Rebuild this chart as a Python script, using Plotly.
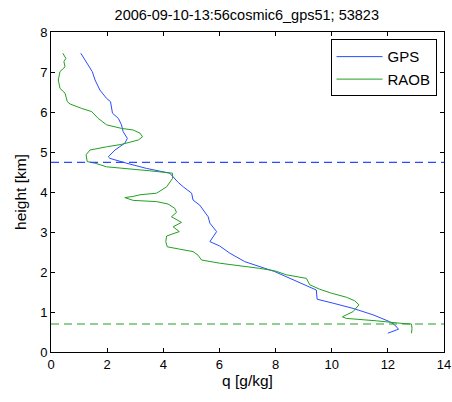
import plotly.graph_objects as go

# GPS profile (q in g/kg, height in km)
gps_q = [12.00, 12.38, 12.24, 12.06, 11.47, 10.76, 10.05, 9.48, 9.45, 8.39, 7.97,
         6.90, 6.37, 6.01, 5.66, 5.90, 5.66, 5.60, 5.42, 5.30, 5.06, 5.01, 4.71,
         4.53, 4.23, 3.40, 2.69, 2.10, 2.04, 2.28, 2.63, 2.72, 2.57, 2.51, 2.40,
         2.19, 2.12, 1.98, 1.74, 1.57, 1.47, 1.27, 1.06]
gps_h = [0.47, 0.57, 0.68, 0.76, 0.93, 1.09, 1.22, 1.32, 1.55, 1.88, 2.01,
         2.26, 2.47, 2.65, 2.76, 3.01, 3.22, 3.38, 3.55, 3.67, 3.80, 3.97, 4.13,
         4.24, 4.47, 4.59, 4.72, 4.84, 4.88, 5.05, 5.22, 5.34, 5.51, 5.68, 5.84,
         5.97, 6.26, 6.34, 6.55, 6.80, 7.01, 7.22, 7.47]

# RAOB profile
raob_q = [12.84, 12.86, 12.84, 12.42, 11.59, 10.52, 10.38, 10.76, 10.97, 10.82,
          10.52, 9.99, 9.57, 9.22, 9.10, 8.39, 7.97, 7.44, 6.01, 5.36, 5.24, 5.06,
          4.59, 4.14, 4.09, 4.12, 4.57, 4.35, 4.65, 4.29, 4.47, 4.41, 4.17, 3.76,
          2.93, 2.63, 2.93, 3.17, 3.76, 4.12, 4.33, 4.33, 3.52, 2.69, 1.98, 1.57,
          1.29, 1.25, 1.39, 1.98, 2.51, 3.11, 3.26, 3.17, 2.93, 2.51, 1.98, 1.68,
          1.45, 1.09, 0.68, 0.58, 0.50, 0.32, 0.26, 0.32, 0.50, 0.46, 0.53, 0.42]
raob_h = [0.47, 0.59, 0.70, 0.72, 0.78, 0.84, 0.88, 1.01, 1.18, 1.28,
          1.37, 1.47, 1.57, 1.68, 1.84, 1.93, 2.03, 2.09, 2.22, 2.30, 2.42, 2.51,
          2.57, 2.63, 2.76, 2.90, 3.01, 3.13, 3.24, 3.38, 3.49, 3.59, 3.70, 3.76,
          3.79, 3.86, 3.89, 3.93, 3.97, 4.13, 4.34, 4.47, 4.53, 4.59, 4.63, 4.72,
          4.76, 4.93, 5.05, 5.13, 5.19, 5.30, 5.38, 5.47, 5.55, 5.59, 5.68, 5.84,
          6.01, 6.09, 6.20, 6.26, 6.47, 6.59, 6.80, 7.01, 7.13, 7.26, 7.34, 7.47]

gps_level = 4.74
raob_level = 0.70
x_range = [0, 14]

BLUE = "#2a4cff"
GREEN = "#22a022"

fig = go.Figure()
fig.add_trace(go.Scatter(x=gps_q, y=gps_h, mode="lines", name="GPS",
                         line=dict(color=BLUE, width=1)))
fig.add_trace(go.Scatter(x=raob_q, y=raob_h, mode="lines", name="RAOB",
                         line=dict(color=GREEN, width=1)))
# dashed reference levels
fig.add_trace(go.Scatter(x=x_range, y=[gps_level, gps_level], mode="lines",
                         showlegend=False, line=dict(color=BLUE, width=1.2, dash="8px,5px")))
fig.add_trace(go.Scatter(x=x_range, y=[raob_level, raob_level], mode="lines",
                         showlegend=False, line=dict(color=GREEN, width=1.2, dash="8px,5px")))

axis_style = dict(
    showline=True, linecolor="black", linewidth=1, mirror="allticks",
    ticks="inside", ticklen=4, tickcolor="black", showgrid=False, zeroline=False,
    tickfont=dict(size=13, color="black"), automargin=False,
    ticklabeloverflow="allow",
)

fig.update_layout(
    width=452,
    height=402,
    margin=dict(l=51, r=8, t=32, b=50),
    paper_bgcolor="white",
    plot_bgcolor="white",
    font=dict(family="Liberation Sans, Arial, sans-serif", color="black", size=13),
    title=dict(text="2006-09-10-13:56cosmic6_gps51; 53823", x=0.546, xanchor="center",
               y=0.962, yanchor="middle", font=dict(size=14.5)),
    xaxis=dict(range=x_range, dtick=2, title=dict(text="q [g/kg]", standoff=3,
                                                  font=dict(size=15.5)), **axis_style),
    yaxis=dict(range=[0, 8], dtick=1, title=dict(text="height [km]", standoff=9,
                                                 font=dict(size=15.5)), **axis_style),
    legend=dict(x=0.981, y=0.977, xanchor="right", yanchor="top", bgcolor="white",
                bordercolor="black", borderwidth=1, font=dict(size=15),
                itemwidth=46, tracegroupgap=0),
    showlegend=True,
)

# drop the default page margin so the figure fills the window exactly
fig.write_html("out.html", config={"displayModeBar": False},
               post_script="document.body.style.margin='0';")
